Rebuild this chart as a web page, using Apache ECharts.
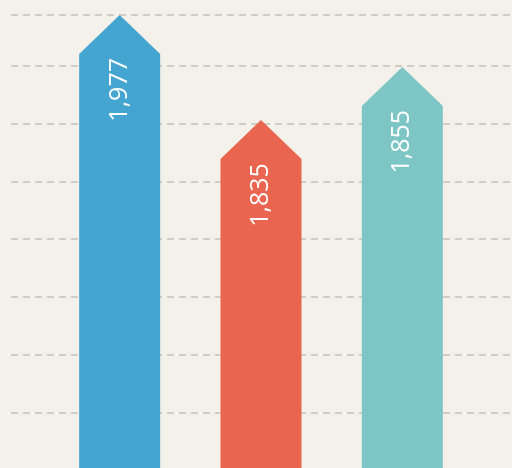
<!DOCTYPE html>
<html lang="en">
  <head>
    <meta charset="UTF-8" />
    <title>arrow bars</title>
  </head>
  <script src="https://cdn.jsdelivr.net/npm/echarts@6/dist/echarts.min.js"></script>
  <style>
    html,
    body {
      margin: 0;
      padding: 0;
      background: #f4f1eb;
    }

    .chart {
      width: 512px;
      height: 468px;
    }
  </style>

  <body>
    <div class="chart" id="chart"></div>
  </body>
  <script>
    const categories = ["A", "B", "C"];
    // bar length on the (hidden) value axis
    const barValues = [1970, 1515, 1745];
    // numbers written on the bars
    const labelValues = [1977, 1835, 1855];
    const colors = ["#45a5d1", "#e9654f", "#7ec6c5"];
    const yMax = 1970;
    const yInterval = 250;

    const myChart = echarts.init(document.getElementById("chart"));

    // 箭头柱子
    const renderArrow = (params, api) => {
      const i = api.value(0);
      const top = api.coord([i, api.value(1)]);
      const base = api.coord([i, 0]);
      const half = 40.5;
      const head = 39;
      const x = top[0];
      const shoulder = top[1] + head;
      return {
        type: "group",
        children: [
          {
            type: "polygon",
            shape: {
              points: [
                [x - half, base[1]],
                [x - half, shoulder],
                [x, top[1]],
                [x + half, shoulder],
                [x + half, base[1]],
              ],
            },
            style: { fill: colors[params.dataIndex] },
          },
          {
            type: "text",
            x: x,
            y: shoulder + 4,
            rotation: Math.PI / 2,
            style: {
              text: labelValues[params.dataIndex].toLocaleString("en-US"),
              fill: "#ffffff",
              font: '25px "Open Sans"',
              align: "right",
              verticalAlign: "middle",
            },
          },
        ],
      };
    };

    const yAxisBase = {
      type: "value",
      min: 0,
      max: yMax,
      interval: yInterval,
      axisLine: { show: false },
      axisTick: { show: false },
      axisLabel: { show: false },
    };

    const option = {
      backgroundColor: "#f4f1eb",
      animation: false,
      grid: [
        { left: 11, right: 0, top: 15, height: 455, outerBoundsMode: "none" },
        { left: 49, right: 39, top: 15, height: 455, outerBoundsMode: "none" },
      ],
      xAxis: [
        { type: "category", gridIndex: 0, data: categories, show: false },
        { type: "category", gridIndex: 1, data: categories, show: false },
      ],
      yAxis: [
        Object.assign({}, yAxisBase, {
          gridIndex: 0,
          splitLine: {
            show: true,
            lineStyle: { color: "#d0ccc6", width: 2, type: [7, 5] },
          },
        }),
        Object.assign({}, yAxisBase, {
          gridIndex: 1,
          splitLine: { show: false },
        }),
      ],
      series: [
        {
          type: "custom",
          xAxisIndex: 1,
          yAxisIndex: 1,
          renderItem: renderArrow,
          encode: { x: 0, y: 1 },
          data: barValues.map((v, i) => [i, v]),
        },
      ],
    };

    myChart.setOption(option);
  </script>
</html>
